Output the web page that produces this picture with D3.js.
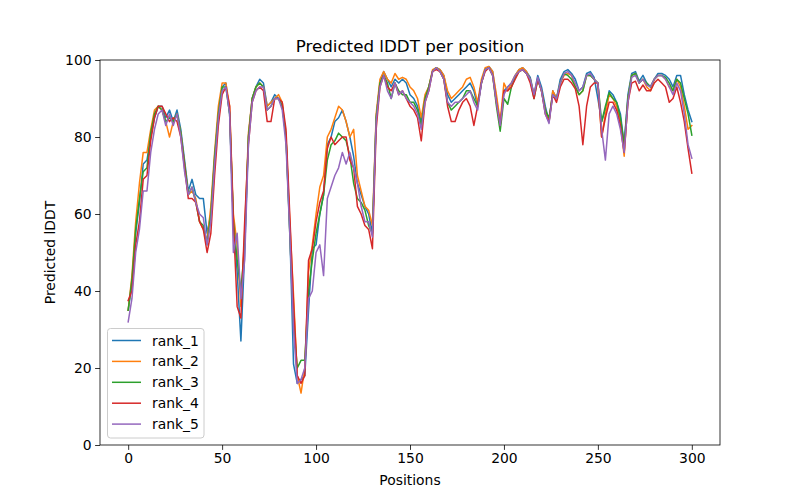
<!DOCTYPE html>
<html><head><meta charset="utf-8">
<script src="https://cdn.jsdelivr.net/npm/d3@7"></script>
<style>
body{margin:0;background:#fff;}
svg{display:block;font-family:"DejaVu Sans",sans-serif;}
</style></head>
<body><svg id="c" width="800" height="500"></svg>
<script>
const positions = [0,2,4,6,8,10,12,14,16,18,20,22,24,26,28,30,32,34,36,38,40,42,44,46,48,50,52,54,56,58,60,62,64,66,68,70,72,74,76,78,80,82,84,86,88,90,92,94,96,98,100,102,104,106,108,110,112,114,116,118,120,122,124,126,128,130,132,134,136,138,140,142,144,146,148,150,152,154,156,158,160,162,164,166,168,170,172,174,176,178,180,182,184,186,188,190,192,194,196,198,200,202,204,206,208,210,212,214,216,218,220,222,224,226,228,230,232,234,236,238,240,242,244,246,248,250,252,254,256,258,260,262,264,266,268,270,272,274,276,278,280,282,284,286,288,290,292,294,296,298,300];

const rank_1 = [35,42,55,63,73,74,80,85,88,88,85,87,84,87,82,74,
66,69,65,64,64,55,60,74,86,93,94,86,58,45,27,
50,80,90,93,95,94,88,89,91,90,88,80,56,21,16,
17,18,35,51,52,60,65,78,80,84,85,87,84,80,75,68,65,62,60,55,85,94,
97,95,93,95,94,95,94,91,90,88,84,90,93,97,98,97.5,96,91,89,90,91,92,93,94,92,88,94,97.5,98.3,97,90,83,92,
93,94,96,97.5,98,97,95.5,91,96,93,88,84,92,90,95,97,97.5,96.5,95,92,93,96.5,97,95.5,90,
84,87,92,91,89,86,78,91,96.5,97,94.5,96,94,93,95,96.5,96.5,96,95,93,96,96,91,87,84];

const rank_2 = [35,44,58,68,76,76,82,87,88,87,84,80,84,86,81,73,
65,66,64,58,56,53,62,76,88,94,94,88,60,52,36,
55,81,90,93,94,93,88,89,90,91,89,80,58,39,18,
13.5,20,45,52,60,67,70,80,82,85,88,87,84,80,82,70,66,62,61,57,86,95,
97,95,94,96.5,95,95.5,95,93,92,90,85,91,93,97.5,98,97.5,96,92,90,91,92,93,95,95.5,93,89,95,98,98.3,97,91,84,94,
92,94,96,97.5,98,97,95,91,95,92,87,84,92,90,94,96,96.5,96,93,91,92,96,96,95,94,
80,86,91,90,88,84,75,90,96,96.5,94,95,93,92,95,96,96,95,93,92,95,93,88,82,83];

const rank_3 = [35,43,56,64,71,72,81,86,88,87,84,85,84,86,81,73,
65,67,63,58,57,52,60,75,86,93,93,86,58,48,40,
52,80,90,93,94,93,87,88,90,90,88,80,55,32,20,
22,22,40,48,55,60,65,74,78,79,81,80,79,75,68,64,63,61,57,55,85,94,
96,94,90,94,92,91,91,89,89,87,83,90,93,97,98,97,95,89,87,88,89,90,92,92,90,88,94,97.5,98,96,88,81.5,90,
88.5,93,95.5,97,97.5,96.5,95,90,95,92,87,85,91,90,94,96.5,96,95,93,91,92,96,96,95,94,
84,88,91.5,90,89,85,78,90,96,96.5,94,95,94,93,95,96,96,95.5,94,92,95,94,90,86,80.5];

const rank_4 = [37.5,40,52,58,69,70,79,85,88,88,86,84,85,84,80,72,
64,64,63,58,56,50,55,70,83,91,93,88,58,36,33,
58,78,89,92,93,92,84,84,90,90,89,82,60,37,18,
16,18,48,51,58,63,66,77,80,78,79,80,80,74,72,62,60,57,56,51,82,93,
96,93,92,94,91,92,90,88,87,85,79,89,92,97,97.5,97,95,88,84,84,87,89,90,88,83,88,94,97,98,96,89,83,92,
92,93,95,97,97.5,96.5,94,90,95,92,86,84,91,89,93,95,95,94,92.5,88,78,88,93,94,94,
80,85,89,89,87,83,76,89,94,94.5,92,93.5,92,92,94,95,94,93,89,90,93,89,84,77,70.6];

const rank_5 = [32,38,50,56,66,66,76,82,86,87,83,86,83,86,80,71,
65,67,63,60,59,52,58,73,85,92,93,86,50,55,38,
48,78,89,92,93,93,87,88,90,90,87,78,55,30,16,
17,20,38,40,50,52,44,64,67,70,72,76,73,76,72,68,62,58,58,54,84,93,
96,92,90,94,91,92,90,89,88,86,82,89,92,97,98,97,95,89,88,89,89,90,91,92,89,87,94,97.5,98,96,89,83,91,
93,94,96,97,97.5,96.5,95,91,95.5,92,86,83.5,91,90,94,96.5,97,96,94,92,93,96,96.5,95,94,
82,74,86,88,86,82,76,89,95.5,96,94,95,93.5,93,95,96,96,95,93,91,94,92,86,78,74.5];

const seriesNames = ["rank_1","rank_2","rank_3","rank_4","rank_5"];
const seriesValues = [rank_1,rank_2,rank_3,rank_4,rank_5];
const colors = ["#1f77b4","#ff7f0e","#2ca02c","#d62728","#9467bd"];
const xTicks = [0,50,100,150,200,250,300];
const yTicks = [0,20,40,60,80,100];

const svg = d3.select("#c");
const L=100,R=720,T=60,B=445;
const x = d3.scaleLinear().domain([-15,315]).range([L,R]);
const y = d3.scaleLinear().domain([0,100]).range([B,T]);

const line = d3.line().x((d,i)=>x(positions[i])).y(d=>y(d));
const g = svg.append("g");
seriesValues.forEach((vals,k)=>{
  g.append("path").datum(vals).attr("d",line)
   .attr("fill","none").attr("stroke",colors[k]).attr("stroke-width",1.5)
   .attr("stroke-linejoin","round").attr("stroke-linecap","square");
});

// spines
svg.append("rect").attr("x",L).attr("y",T).attr("width",R-L).attr("height",B-T)
  .attr("fill","none").attr("stroke","#000").attr("stroke-width",0.8);

const xa = svg.append("g").attr("transform",`translate(0,${B})`)
  .call(d3.axisBottom(x).tickValues(xTicks).tickSize(4.9).tickPadding(3.5).tickFormat(d3.format("d")));
const ya = svg.append("g").attr("transform",`translate(${L},0)`)
  .call(d3.axisLeft(y).tickValues(yTicks).tickSize(4.9).tickPadding(3.5).tickFormat(d3.format("d")));
[xa,ya].forEach(a=>{
  a.select(".domain").remove();
  a.selectAll("line").attr("stroke","#000").attr("stroke-width",0.8);
  a.selectAll("text").attr("font-family","DejaVu Sans").attr("font-size","13.9px").attr("fill","#000");
});

svg.append("text").attr("x",(L+R)/2).attr("y",52).attr("text-anchor","middle")
  .attr("font-size","16.7px").text("Predicted lDDT per position");
svg.append("text").attr("x",(L+R)/2).attr("y",485).attr("text-anchor","middle")
  .attr("font-size","13.9px").text("Positions");
svg.append("text").attr("transform",`translate(55,${(T+B)/2}) rotate(-90)`).attr("text-anchor","middle")
  .attr("font-size","13.9px").text("Predicted lDDT");

// legend
const lg = svg.append("g");
lg.append("rect").attr("x",107.5).attr("y",328.5).attr("width",96.5).attr("height",109.5)
  .attr("rx",3).attr("fill","#fff").attr("fill-opacity",0.8).attr("stroke","#ccc").attr("stroke-width",1);
seriesNames.forEach((n,k)=>{
  const yy = 340.5 + k*20.9;
  lg.append("line").attr("x1",112).attr("x2",141).attr("y1",yy).attr("y2",yy)
    .attr("stroke",colors[k]).attr("stroke-width",1.5);
  lg.append("text").attr("x",152).attr("y",yy+5).attr("font-size","13.9px").text(n);
});
</script></body></html>
